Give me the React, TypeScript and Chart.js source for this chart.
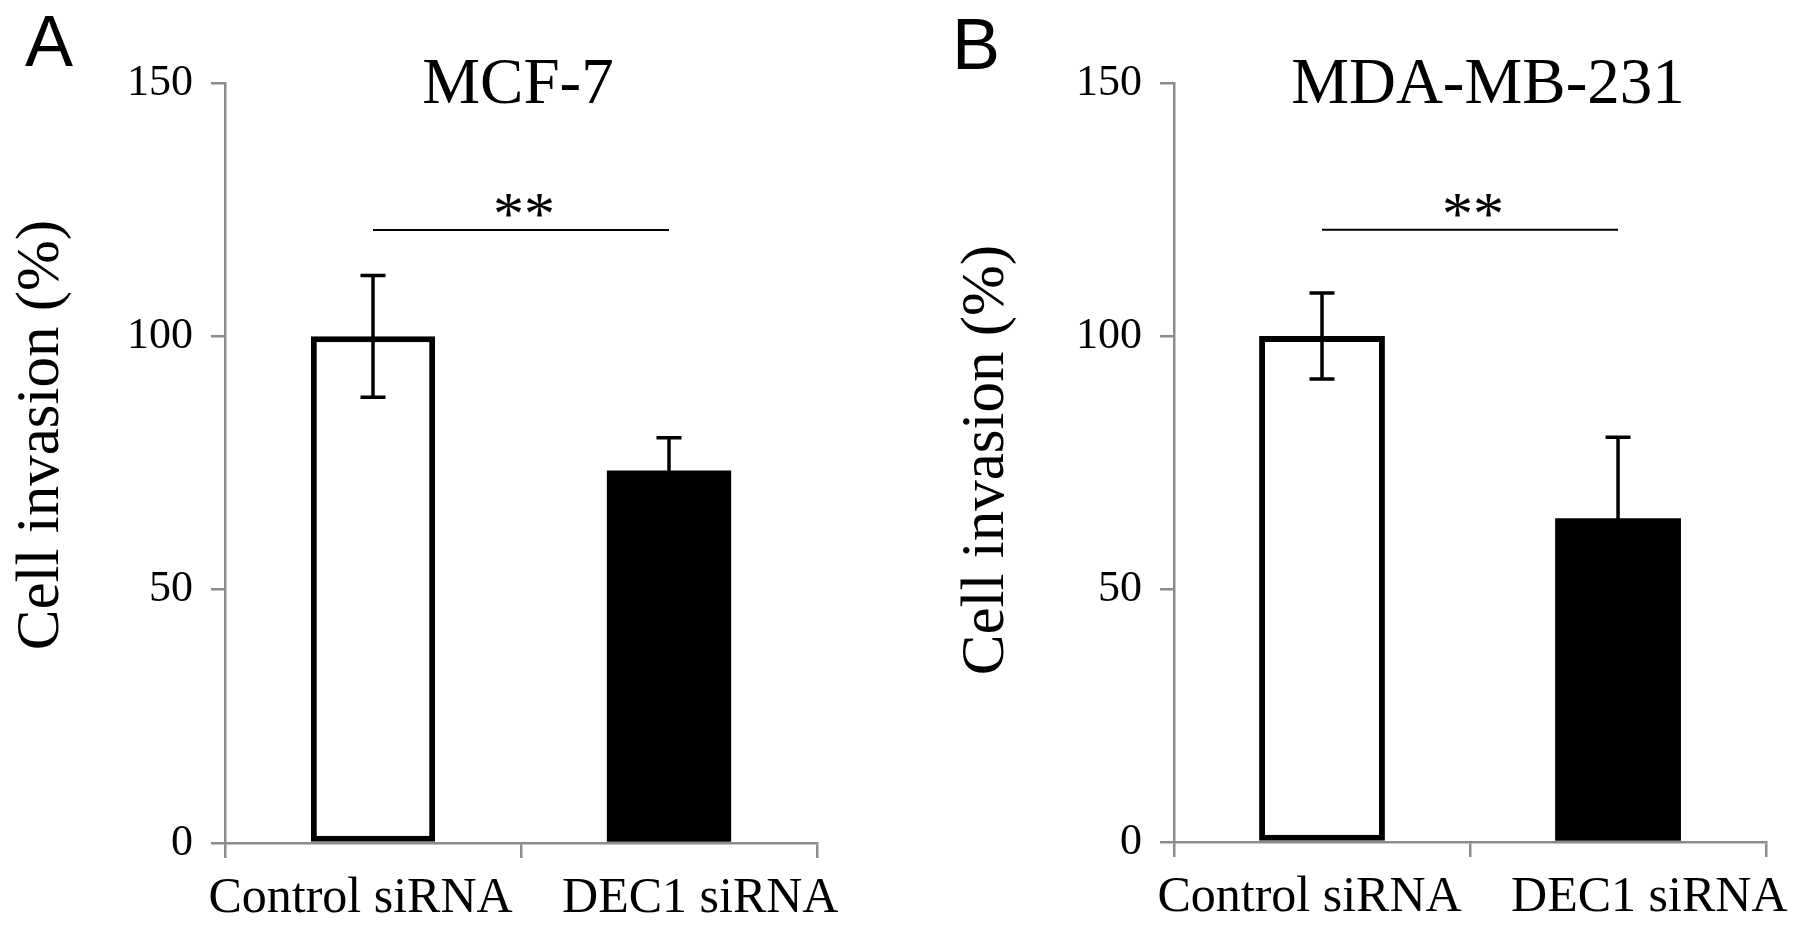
import { useEffect, useRef } from "react";
import { Chart, registerables } from "chart.js";

Chart.register(...registerables);

// values (mean ± error, %)
const categories = ["Control siRNA", "DEC1 siRNA"];
const mcf7Means = [100, 73.5];
const mcf7Errors = [12, 6.5];
const mdaMeans = [100, 64];
const mdaErrors = [8.5, 16];
const yTickValues = [0, 50, 100, 150];
const sigLevel = 121;
const sigLabel = "**";
const barFills = ["#ffffff", "#000000"];
const barBorders = [6, 0];

const SERIF = '"Liberation Serif", "Times New Roman", serif';
const SANS = '"Liberation Sans", Arial, sans-serif';
const AXIS = "#8c8c8c";

// the original labels sit a little apart from the category centres
const padLabel = (label: string, i: number) => (i === 0 ? label + "  " : "     " + label);

interface PanelProps {
  letter: string;
  title: string;
  means: number[];
  errors: number[];
  left: number;
  width: number;
  yWidth: number;
  padRight: number;
  xHeight: number;
  barPct: number;
  letterX: number;
  letterY: number;
  titleX: number;
  yTitleX: number;
  yTitleY: number;
}

const Panel = (p: PanelProps) => {
  const canvasRef = useRef<HTMLCanvasElement | null>(null);
  const chartRef = useRef<Chart | null>(null);

  useEffect(() => {
    if (!canvasRef.current) return;
    if (chartRef.current) chartRef.current.destroy();

    const annotations = {
      id: "annotations",
      afterDatasetsDraw(chart: any) {
        const ctx = chart.ctx;
        const y = chart.scales.y;
        const meta = chart.getDatasetMeta(0);
        ctx.save();
        ctx.strokeStyle = "#000";
        ctx.lineWidth = 3.5;
        // error bars
        meta.data.forEach((bar: any, i: number) => {
          const top = y.getPixelForValue(p.means[i] + p.errors[i]);
          const bottom = y.getPixelForValue(p.means[i] - p.errors[i]);
          ctx.beginPath();
          ctx.moveTo(bar.x, top);
          ctx.lineTo(bar.x, bottom);
          ctx.moveTo(bar.x - 12.5, top);
          ctx.lineTo(bar.x + 12.5, top);
          ctx.moveTo(bar.x - 12.5, bottom);
          ctx.lineTo(bar.x + 12.5, bottom);
          ctx.stroke();
        });
        // significance bracket
        const sy = y.getPixelForValue(sigLevel);
        const x0 = meta.data[0].x;
        const x1 = meta.data[1].x;
        ctx.lineWidth = 2;
        ctx.beginPath();
        ctx.moveTo(x0, sy);
        ctx.lineTo(x1, sy);
        ctx.stroke();
        ctx.fillStyle = "#000";
        ctx.font = `62px ${SERIF}`;
        ctx.textAlign = "center";
        ctx.textBaseline = "alphabetic";
        ctx.fillText(sigLabel, (x0 + x1) / 2 + 3, sy + 4);
        ctx.restore();
      },
      afterDraw(chart: any) {
        const ctx = chart.ctx;
        ctx.save();
        ctx.fillStyle = "#000";
        ctx.textBaseline = "alphabetic";
        ctx.textAlign = "left";
        ctx.font = `72px ${SANS}`;
        ctx.fillText(p.letter, p.letterX, p.letterY);
        ctx.textAlign = "center";
        ctx.font = `65px ${SERIF}`;
        ctx.fillText(p.title, p.titleX, 103);
        // y axis title
        ctx.translate(p.yTitleX, p.yTitleY);
        ctx.rotate(-Math.PI / 2);
        ctx.textBaseline = "middle";
        ctx.font = `61px ${SERIF}`;
        ctx.fillText("Cell invasion (%)", 0, 0);
        ctx.restore();
      },
    };

    chartRef.current = new Chart(canvasRef.current, {
      type: "bar",
      data: {
        labels: categories,
        datasets: [
          {
            data: p.means,
            backgroundColor: barFills,
            borderColor: "#000",
            borderWidth: barBorders,
            borderSkipped: false,
            barPercentage: p.barPct,
            categoryPercentage: 1,
          },
        ],
      },
      options: {
        responsive: false,
        animation: false,
        layout: { padding: { left: 0, right: p.padRight, top: 83, bottom: 0 } },
        plugins: {
          legend: { display: false },
          tooltip: { enabled: false },
        },
        scales: {
          x: {
            grid: {
              offset: true,
              drawOnChartArea: false,
              drawTicks: true,
              tickLength: 15,
              color: AXIS,
              lineWidth: 2.5,
            },
            border: { display: true, color: AXIS, width: 2.5 },
            ticks: {
              font: { family: SERIF, size: 50 },
              color: "#000",
              padding: 11,
              maxRotation: 0,
              minRotation: 0,
              autoSkip: false,
              callback: (_v: any, i: number) => padLabel(categories[i], i),
            },
            afterFit: (s: any) => {
              s.height = p.xHeight;
            },
          },
          y: {
            min: 0,
            max: 150,
            afterBuildTicks: (s: any) => {
              s.ticks = yTickValues.map((v) => ({ value: v }));
            },
            grid: {
              drawOnChartArea: false,
              drawTicks: true,
              tickLength: 14,
              color: AXIS,
              lineWidth: 2.5,
            },
            border: { display: true, color: AXIS, width: 2.5 },
            ticks: {
              font: { family: SERIF, size: 44 },
              color: "#000",
              padding: 18,
            },
            afterFit: (s: any) => {
              s.width = p.yWidth;
            },
          },
        },
      },
      plugins: [annotations],
    } as any);

    return () => {
      if (chartRef.current) {
        chartRef.current.destroy();
        chartRef.current = null;
      }
    };
  }, []);

  return (
    <canvas
      ref={canvasRef}
      width={p.width}
      height={935}
      style={{ position: "absolute", left: p.left, top: 0 }}
    />
  );
};

export default function App() {
  useEffect(() => {
    document.body.style.margin = "0";
  }, []);

  return (
    <div style={{ position: "relative", width: 1807, height: 935, background: "#fff", overflow: "hidden" }}>
      <Panel
        letter="A"
        title="MCF-7"
        means={mcf7Means}
        errors={mcf7Errors}
        left={0}
        width={900}
        yWidth={225}
        padRight={83}
        xHeight={92}
        barPct={0.42}
        letterX={25}
        letterY={66}
        titleX={518}
        yTitleX={42}
        yTitleY={435}
      />
      <Panel
        letter="B"
        title="MDA-MB-231"
        means={mdaMeans}
        errors={mdaErrors}
        left={900}
        width={907}
        yWidth={274}
        padRight={34}
        xHeight={93}
        barPct={0.425}
        letterX={52}
        letterY={69}
        titleX={588}
        yTitleX={87}
        yTitleY={460}
      />
    </div>
  );
}
